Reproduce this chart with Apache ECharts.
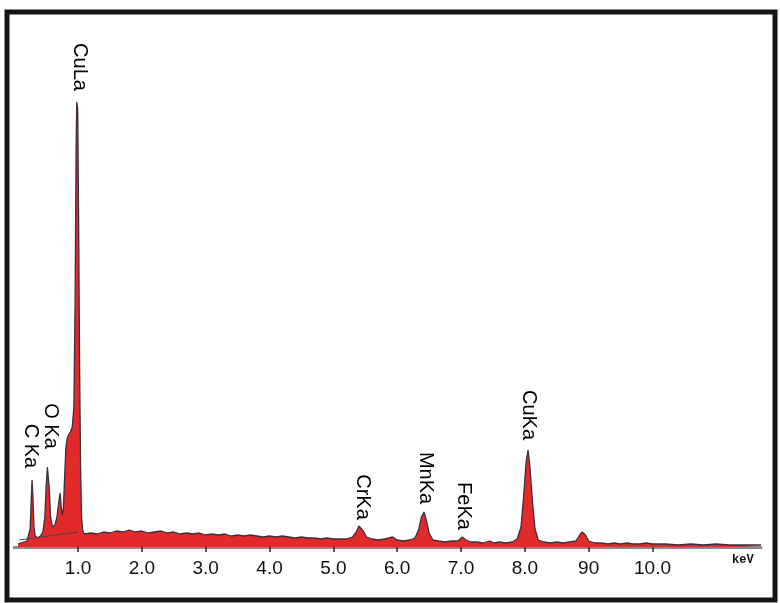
<!DOCTYPE html>
<html>
<head>
<meta charset="utf-8">
<script src="https://cdn.jsdelivr.net/npm/echarts@6/dist/echarts.min.js"></script>
<style>
html,body{margin:0;padding:0;background:#fff;}
#chart{width:780px;height:603px;}
</style>
</head>
<body>
<div id="chart"></div>
<script>
// Energy (keV) and counts (arbitrary units)
const energyKeV = [
  0.06,0.10,0.15,0.20,0.23,0.25,0.265,0.28,0.295,0.31,0.33,0.37,0.41,0.45,0.48,0.50,0.52,0.535,0.55,0.57,
  0.60,0.64,0.67,0.70,0.72,0.735,0.75,0.77,0.79,0.81,0.83,0.85,0.88,0.91,0.935,0.955,0.97,0.98,0.995,1.01,
  1.025,1.04,1.055,1.075,1.10,
  1.2,1.3,1.4,1.5,1.6,1.7,1.8,1.9,2.0,2.1,2.2,2.3,2.4,2.5,2.6,2.7,2.8,2.9,3.0,3.1,3.2,3.3,3.4,3.5,3.6,3.7,
  3.8,3.9,4.0,4.1,4.2,4.3,4.4,4.5,4.6,4.7,4.8,4.9,5.0,5.1,5.2,
  5.3,5.36,5.40,5.43,5.47,5.52,5.6,5.7,5.8,5.87,5.93,6.0,6.1,6.2,6.28,6.34,6.38,6.42,6.46,6.5,6.56,6.65,
  6.75,6.85,6.95,7.02,7.08,7.15,7.25,7.35,7.45,7.52,7.6,7.7,7.8,7.88,7.94,7.98,8.02,8.05,8.08,8.12,8.16,
  8.21,8.3,8.4,8.5,8.6,8.7,8.8,8.85,8.9,8.95,9.0,9.1,9.2,9.3,9.4,9.5,9.6,9.7,9.8,9.9,10.0,10.2,10.4,10.6,
  10.8,11.0,11.2,11.4,11.7
];
const counts = [
  3,4,5,6,8,18,45,67,48,20,11,9,11,15,30,60,80,82,58,30,
  20,22,30,46,54,42,32,38,70,100,108,112,115,120,140,250,400,445,438,320,
  180,80,30,16,13,
  14,13,15,14,16,15,17,15,16,14,15,16,14,15,13,14,13,14,12,13,12,13,11,12,11,12,
  11,10,11,10,11,10,9,10,9,9,8,9,8,8,8,
  10,15,21,22,16,10,8,7,8,9,10,7,6,7,9,18,30,35,26,14,7,6,
  5,6,6,10,7,5,5,4,6,4,5,4,5,8,20,50,85,97,80,45,18,
  7,5,4,5,4,5,6,11,15,12,6,4,4,3,4,3,4,3,3,4,3,3,2,3,
  2,3,2,2,2
];
// Continuum (background) line under the low-energy peaks
const continuumKeV = [0.08, 1.0];
const continuumCounts = [7, 15];

// Peak labels: name, energy, label centre height
const peakNames  = ['C Ka','O Ka','CuLa','CrKa','MnKa','FeKa','CuKa'];
const peakKeV    = [0.25, 0.57, 1.03, 5.45, 6.44, 7.04, 8.05];
const peakLabelY = [101, 121, 480, 50, 69, 41, 132];

// Tick positions and labels (as printed)
const tickValues = [1,2,3,4,5,6,7,8,9,10];
const tickLabels = ['1.0','2.0','3.0','4.0','5.0','6.0','7.0','8.0','90','10.0'];

const spectrum = energyKeV.map((e,i)=>[e, counts[i]]);
const continuum = continuumKeV.map((e,i)=>[e, continuumCounts[i]]);
const labelPts = peakKeV.map((e,i)=>({value:[e, peakLabelY[i]], name: peakNames[i]}));

const chart = echarts.init(document.getElementById('chart'), null, {renderer:'canvas'});
chart.setOption({
  animation:false,
  backgroundColor:'#ffffff',
  grid:{left:14.2, right:19, top:47, bottom:56},
  xAxis:{
    type:'value', min:0, max:11.7, interval:1,
    splitLine:{show:false},
    axisLine:{show:true, lineStyle:{color:'#8a8a8a', width:3}},
    axisTick:{show:true, customValues:tickValues, length:5, lineStyle:{color:'#2a2a2a', width:1.5}},
    axisLabel:{
      customValues:tickValues, margin:12,
      fontFamily:'Liberation Sans', fontSize:19, color:'#111',
      formatter:(v)=>{const i=tickValues.indexOf(Math.round(v)); return i>=0?tickLabels[i]:'';}
    }
  },
  yAxis:{type:'value', min:0, max:500, show:false},
  graphic:[
    {type:'rect', shape:{x:7, y:12, width:768, height:588},
     style:{fill:'none', stroke:'#151515', lineWidth:5}, z:100},
    {type:'text', left:732, top:554,
     style:{text:'keV', font:'bold 12px "Liberation Mono"', fill:'#111'}}
  ],
  series:[
    {
      type:'line', data:spectrum, symbol:'none', smooth:false,
      lineStyle:{color:'#3e2e3e', width:1.3},
      areaStyle:{color:'#e32a2b', opacity:1},
      z:2
    },
    {
      type:'line', data:continuum, symbol:'none',
      lineStyle:{color:'#5a3a48', width:1}, z:3
    },
    {
      type:'scatter', data:labelPts, symbolSize:0, z:4,
      itemStyle:{opacity:1},
      label:{
        show:true, position:'inside', rotate:-90,
        formatter:(p)=>p.name,
        fontFamily:'Liberation Sans', fontSize:20, color:'#000', opacity:1
      }
    }
  ]
});
</script>
</body>
</html>
